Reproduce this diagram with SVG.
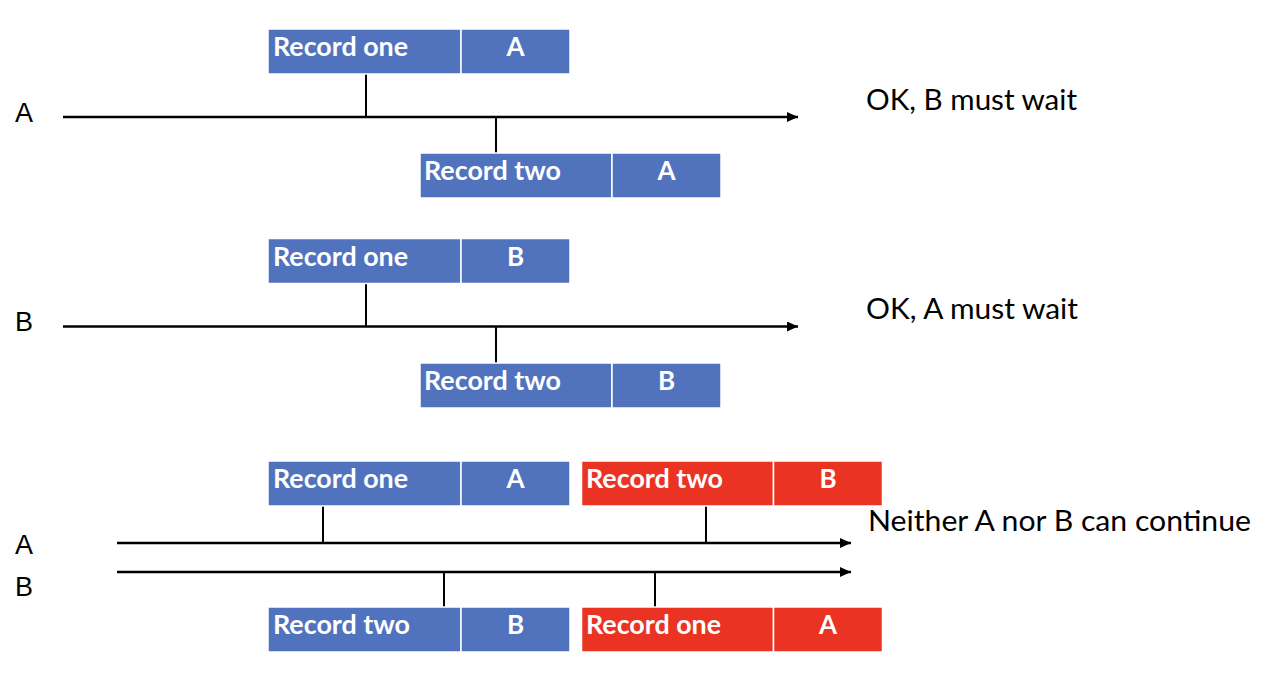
<svg xmlns="http://www.w3.org/2000/svg" width="1272" height="678" viewBox="0 0 1272 678">
  <defs>
    <marker id="arrow" viewBox="0 0 11 10" refX="11" refY="5" markerWidth="11" markerHeight="10" markerUnits="userSpaceOnUse" orient="auto">
      <path d="M0,0 L11,5 L0,10 Z" fill="#000"/>
    </marker>
  </defs>
  <style>
    .blue { fill: #5173BE; stroke: #ffffff; stroke-width: 1.5; }
    .red { fill: #EA3323; stroke: #ffffff; stroke-width: 1.5; }
    .lbl { font-family: Lato, "Open Sans", sans-serif; font-weight: bold; font-size: 26px; fill: #ffffff; }
    .mid { text-anchor: middle; }
    .note { font-family: Lato, "Open Sans", sans-serif; font-size: 28px; fill: #000000; }
    .side { font-family: "Liberation Sans", Arial, sans-serif; font-size: 27px; fill: #000000; }
    .axis { stroke: #000; stroke-width: 2.5; fill: none; }
    .tick { stroke: #000; stroke-width: 2; fill: none; }
  </style>
  <rect width="1272" height="678" fill="#ffffff"/>

  <g id="connectors">
    <line class="axis" x1="63" y1="117" x2="798" y2="117" marker-end="url(#arrow)"/>
    <line class="tick" x1="366" y1="74" x2="366" y2="117"/>
    <line class="tick" x1="496" y1="117" x2="496" y2="153"/>

    <line class="axis" x1="63" y1="326.5" x2="798" y2="326.5" marker-end="url(#arrow)"/>
    <line class="tick" x1="366" y1="283" x2="366" y2="326"/>
    <line class="tick" x1="496" y1="326" x2="496" y2="363"/>

    <line class="axis" x1="117" y1="543" x2="851" y2="543" marker-end="url(#arrow)"/>
    <line class="axis" x1="117" y1="572" x2="851" y2="572" marker-end="url(#arrow)"/>
    <line class="tick" x1="323" y1="506" x2="323" y2="543"/>
    <line class="tick" x1="706" y1="506" x2="706" y2="543"/>
    <line class="tick" x1="444" y1="572" x2="444" y2="607"/>
    <line class="tick" x1="655" y1="572" x2="655" y2="607"/>
  </g>

  <g id="node-a-record-one">
    <rect class="blue" x="268" y="29" width="193" height="45"/>
    <rect class="blue" x="461" y="29" width="109" height="45"/>
    <text class="lbl" x="273" y="56" textLength="135" lengthAdjust="spacingAndGlyphs">Record one</text>
    <text class="lbl mid" x="515.5" y="56">A</text>
  </g>
  <g id="node-a-record-two">
    <rect class="blue" x="420" y="153" width="192" height="45"/>
    <rect class="blue" x="612" y="153" width="109" height="45"/>
    <text class="lbl" x="424" y="180" textLength="137" lengthAdjust="spacingAndGlyphs">Record two</text>
    <text class="lbl mid" x="666.5" y="180">A</text>
  </g>

  <g id="node-b-record-one">
    <rect class="blue" x="268" y="238.5" width="193" height="45"/>
    <rect class="blue" x="461" y="238.5" width="109" height="45"/>
    <text class="lbl" x="273" y="265.5" textLength="135" lengthAdjust="spacingAndGlyphs">Record one</text>
    <text class="lbl mid" x="515.5" y="265.5">B</text>
  </g>
  <g id="node-b-record-two">
    <rect class="blue" x="420" y="363" width="192" height="45"/>
    <rect class="blue" x="612" y="363" width="109" height="45"/>
    <text class="lbl" x="424" y="390" textLength="137" lengthAdjust="spacingAndGlyphs">Record two</text>
    <text class="lbl mid" x="666.5" y="390">B</text>
  </g>

  <g id="node-dl-a-record-one">
    <rect class="blue" x="268" y="461" width="193" height="45"/>
    <rect class="blue" x="461" y="461" width="109" height="45"/>
    <text class="lbl" x="273" y="488" textLength="135" lengthAdjust="spacingAndGlyphs">Record one</text>
    <text class="lbl mid" x="515.5" y="488">A</text>
  </g>
  <g id="node-dl-b-record-two-wait">
    <rect class="red" x="581.5" y="461" width="192" height="45"/>
    <rect class="red" x="773.5" y="461" width="109" height="45"/>
    <text class="lbl" x="586" y="488" textLength="137" lengthAdjust="spacingAndGlyphs">Record two</text>
    <text class="lbl mid" x="828" y="488">B</text>
  </g>
  <g id="node-dl-b-record-two">
    <rect class="blue" x="268" y="607" width="193" height="45"/>
    <rect class="blue" x="461" y="607" width="109" height="45"/>
    <text class="lbl" x="273" y="634" textLength="137" lengthAdjust="spacingAndGlyphs">Record two</text>
    <text class="lbl mid" x="515.5" y="634">B</text>
  </g>
  <g id="node-dl-a-record-one-wait">
    <rect class="red" x="581.5" y="607" width="192" height="45"/>
    <rect class="red" x="773.5" y="607" width="109" height="45"/>
    <text class="lbl" x="586" y="634" textLength="135" lengthAdjust="spacingAndGlyphs">Record one</text>
    <text class="lbl mid" x="828" y="634">A</text>
  </g>

  <g id="labels">
    <text class="side" x="15" y="122">A</text>
    <text class="side" x="15" y="331">B</text>
    <text class="side" x="15" y="554">A</text>
    <text class="side" x="15" y="596">B</text>
    <text class="note" x="866" y="110" textLength="211" lengthAdjust="spacingAndGlyphs">OK, B must wait</text>
    <text class="note" x="866" y="319" textLength="212" lengthAdjust="spacingAndGlyphs">OK, A must wait</text>
    <text class="note" x="868" y="531" textLength="383" lengthAdjust="spacingAndGlyphs">Neither A nor B can continue</text>
  </g>
</svg>
